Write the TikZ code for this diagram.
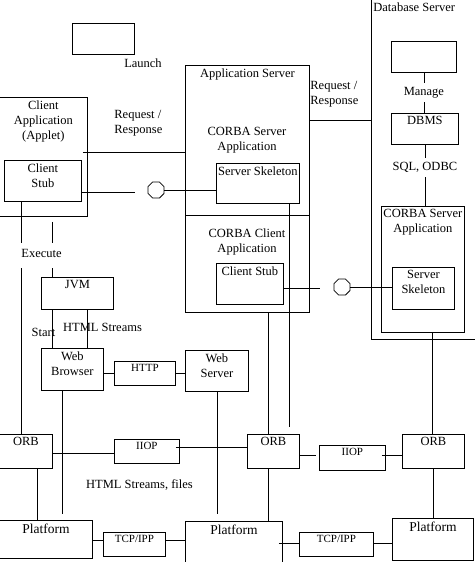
\documentclass[tikz,border=0pt]{standalone}
\usepackage{fontspec}
\setmainfont{Liberation Serif}
\usepackage{tikz}
\usetikzlibrary{shapes.geometric, positioning}

\begin{document}
\begin{tikzpicture}[
    x=1pt, y=-1pt,
    line width=0.8pt,
    font=\fontsize{12.5pt}{15pt}\selectfont,
    box/.style={rectangle, draw, anchor=north west, inner sep=0pt},
    wh/.style 2 args={minimum width=#1pt, minimum height=#2pt},
    ttl/.style={label={[anchor=north, align=center, inner sep=3pt]north:#1}},
    ttls/.style={label={[anchor=north, align=center, inner sep=3pt, font=\fontsize{11pt}{13pt}\selectfont]north:#1}},
    ttlp/.style={label={[anchor=north, align=center, inner sep=3.5pt, font=\fontsize{13.5pt}{16pt}\selectfont]north:#1}},
    lollipop/.style={regular polygon, regular polygon sides=8, draw, minimum size=17.5pt, inner sep=0pt},
    gaplbl/.style={fill=white, inner xsep=1pt, inner ysep=4pt},
    txt/.style={align=left, inner sep=0pt}
]
\useasboundingbox (0,0) rectangle (474,562);

% Client side
\node[box, wh={62}{31}] (launch) at (72,23) {};
\node[box, wh={88}{119}, ttl={Client\\Application\\(Applet)}] (clientapp) at (-1,97) {};
\node[box, wh={77}{41}, ttl={Client\\Stub}] (stub1) at (4,160) {};
\node[box, wh={72}{32}, ttl=JVM] (jvm) at (41,277) {};
\node[box, wh={62}{42}, ttl={Web\\Browser}] (browser) at (41,348) {};
\node[box, wh={61}{24}, ttls=HTTP] (http) at (114,361) {};
\node[box, wh={63}{41}, ttl={Web\\Server}] (websrv) at (185,350) {};

% Application server
\node[box, wh={124}{247}, ttl={Application Server}] (appsrv) at (185,65) {};
\node[box, wh={83}{40}, ttl={Server Skeleton}] (skel1) at (216,163) {};
\node[box, wh={67}{41}, ttl={Client Stub}] (stub2) at (216,263) {};
\node[align=center] (corbasrv) at (247,140.5) {CORBA Server\\Application};
\node[align=center] (corbacli) at (247,241.5) {CORBA Client\\Application};

% Database server
\node[wh={103}{339}, anchor=north west, inner sep=0pt] (dbsrv) at (371,0) {};
\node[anchor=north west, inner sep=2pt] (dbtitle) at (dbsrv.north west) {Database Server};
\node[box, wh={65}{31}] (dbtop) at (391,41) {};
\node[box, wh={67}{31}, ttl=DBMS] (dbms) at (391,113) {};
\node[box, wh={83}{126}, ttl={CORBA Server\\Application}] (corbadb) at (381,206) {};
\node[box, wh={62}{42}, ttl={Server\\Skeleton}] (skel2) at (392,267) {};

% ORB and platform row
\node[box, wh={53}{34}, ttl=ORB] (orb1) at (-1,434) {};
\node[box, wh={65}{24}, ttls=IIOP] (iiop1) at (114,439) {};
\node[box, wh={52}{34}, ttl=ORB] (orb2) at (247,434) {};
\node[box, wh={66}{25}, ttls=IIOP] (iiop2) at (319,445) {};
\node[box, wh={62}{34}, ttl=ORB] (orb3) at (402,434) {};
\node[box, wh={93}{38}, ttlp=Platform] (plat1) at (-1,520) {};
\node[box, wh={62}{24}, ttls=TCP/IPP] (tcp1) at (103,532) {};
\node[box, wh={97}{42}, ttlp=Platform] (plat2) at (185,521) {};
\node[box, wh={74}{24}, ttls=TCP/IPP] (tcp2) at (299,532) {};
\node[box, wh={81}{42}, ttlp=Platform] (plat3) at (392,518) {};

% Interfaces
\node[lollipop] (oct1) at (156,190) {};
\node[lollipop] (oct2) at (342,287) {};

% Free labels
\node (launchlbl) at (143,63) {Launch};
\node[txt, anchor=west] (rr1) at (114,123) {Request /\\Response};
\node[txt, anchor=west] (rr2) at (310,94) {Request /\\Response};
\node (startlbl) at (43.5,332) {Start};
\node (htmllbl) at (102.5,327) {HTML Streams};
\node (fileslbl) at (139.5,485) {HTML Streams, files};

% ---- LINES ----
% Request / Response
\draw ([xshift=-5pt,yshift=4.5pt]clientapp.east) -- ([yshift=36.5pt]appsrv.west);
\draw ([yshift=68.5pt]appsrv.east) -- ([yshift=49.5pt]dbsrv.west);

% Database server outline and divider in application server
\draw (dbsrv.north west) |- (dbsrv.south east);
\draw ([yshift=-26.5pt]appsrv.west) -- ([yshift=-26.5pt]appsrv.east);

% Stubs and skeletons
\draw ([yshift=-11pt]stub1.east) -- ++(53,0);
\draw (oct1.east) -- (oct1.east -| skel1.west);
\draw ([yshift=-4.5pt]stub2.east) -- ++(36,0);
\draw (oct2.east) -- (oct2.east -| skel2.west);

% Database chain
\draw (dbtop.south) -- node[gaplbl] (managelbl) {Manage} (dbtop.south |- dbms.north);
\draw (dbms.south) -- node[gaplbl, pos=0.37] (sqllbl) {SQL, ODBC} (dbms.south |- corbadb.north);

% Client down to ORB and JVM
\draw ([xshift=-21.5pt]stub1.south) -- ([xshift=-4.5pt]orb1.north);
\draw ([xshift=9pt,yshift=-5pt]clientapp.south) -- ([xshift=-25pt]jvm.north);
\node[fill=white, inner xsep=1.5pt, inner ysep=0pt, text height=14pt, text depth=11pt, anchor=base] (execlbl) at (41.5,257) {Execute};

% JVM -> Web Browser
\draw ([xshift=-25pt]jvm.south) -- ([xshift=-20pt]browser.north);
\draw ([xshift=10pt]jvm.south) -- ([xshift=15pt]browser.north);

% HTTP
\draw (http.west -| browser.east) -- (http.west);
\draw (http.east) -- (http.east -| websrv.west);

% Browser and web server down
\draw ([xshift=-10pt]browser.south) -- ([xshift=16.5pt,yshift=6pt]plat1.north);
\draw (websrv.south) -- ([xshift=-17pt,yshift=7pt]plat2.north);

% IIOP
\draw ([yshift=-2pt]orb1.east) -- ([yshift=-2pt]iiop1.west);
\draw ([xshift=-4pt,yshift=4pt]iiop1.east) -- ([yshift=4pt]orb2.west);
\draw ([yshift=-4pt]orb2.east) -- ([xshift=-3pt,yshift=2.5pt]iiop2.west);
\draw ([xshift=-4pt,yshift=2.5pt]iiop2.east) -- ([yshift=-4pt]orb3.west);

% Servers -> ORBs
\draw ([xshift=21pt]appsrv.south) -- ([xshift=-5pt]orb2.north);
\draw ([xshift=31.5pt]skel1.south) -- ([xshift=16pt,yshift=7pt]orb2.north);
\draw ([xshift=9.5pt]corbadb.south) -- ([xshift=-1pt]orb3.north);

% ORBs -> Platforms
\draw ([xshift=11.5pt]orb1.south) -- ([xshift=-8.5pt]plat1.north);
\draw ([xshift=-5pt]orb2.south) -- ([xshift=34.5pt]plat2.north);
\draw (orb3.south) -- (orb3.south |- plat3.north);

% TCP/IPP
\draw ([yshift=-1pt]plat1.east) -- ([yshift=4pt]tcp1.west);
\draw ([yshift=4pt]tcp1.east) -- ([yshift=2pt]plat2.west);
\draw ([xshift=-4pt,yshift=-1pt]plat2.east) -- ([yshift=1pt]tcp2.west);
\draw ([yshift=1pt]tcp2.east) -- ([yshift=-4pt]plat3.west);

\end{tikzpicture}
\end{document}
